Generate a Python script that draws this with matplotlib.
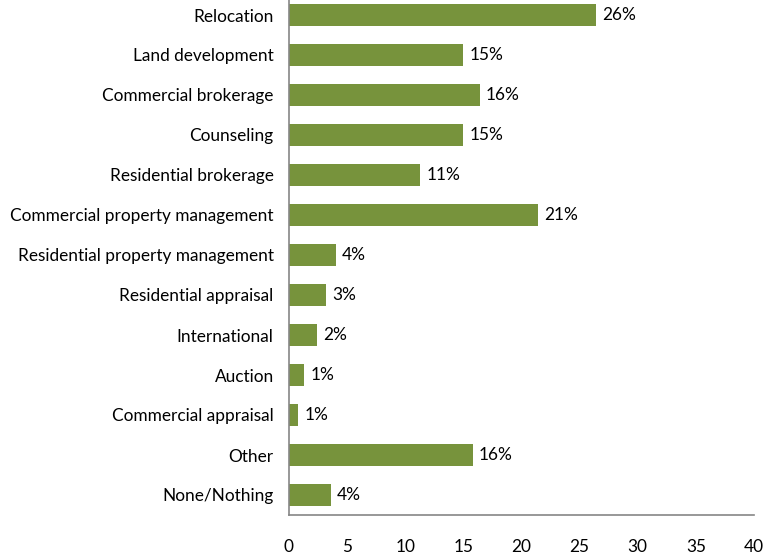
import matplotlib
matplotlib.use("Agg")
import matplotlib.pyplot as plt

# Share of respondents by specialty (percent)
categories = [
    "Relocation",
    "Land development",
    "Commercial brokerage",
    "Counseling",
    "Residential brokerage",
    "Commercial property management",
    "Residential property management",
    "Residential appraisal",
    "International",
    "Auction",
    "Commercial appraisal",
    "Other",
    "None/Nothing",
]
shares = [26.4, 15.0, 16.4, 15.0, 11.3, 21.4, 4.0, 3.2, 2.4, 1.3, 0.8, 15.8, 3.6]
x_ticks = [0, 5, 10, 15, 20, 25, 30, 35, 40]

BAR_COLOR = "#77933C"
AXIS_COLOR = "#868686"
FONT_SIZE = 12.4

plt.rcParams["font.family"] = ["Lato", "DejaVu Sans"]

W, H = 772, 557
fig = plt.figure(figsize=(W / 100, H / 100), dpi=100)
ax = fig.add_axes([289 / W, (H - 515) / H, (754 - 289) / W, 515 / H])

n = len(categories)
ypos = list(range(n - 1, -1, -1))
bars = ax.barh(ypos, shares, height=0.57, color=BAR_COLOR)

for rect, v in zip(bars, shares):
    ax.annotate(f"{round(v):d}%",
                xy=(rect.get_width(), rect.get_y() + rect.get_height() / 2),
                xytext=(6, 0), textcoords="offset pixels",
                va="center", ha="left", fontsize=FONT_SIZE, color="#000000")

ax.set_xlim(0, 40)
ax.set_ylim(-0.5, n - 0.5 + (515 - n * 40) / 40)
ax.set_xticks(x_ticks)
ax.set_yticks(ypos)
ax.set_yticklabels(categories)

for side in ("top", "right"):
    ax.spines[side].set_visible(False)
for side in ("left", "bottom"):
    ax.spines[side].set_color(AXIS_COLOR)
    ax.spines[side].set_linewidth(1.2)

ax.tick_params(axis="y", length=0, pad=11, labelsize=FONT_SIZE)
ax.tick_params(axis="x", length=0, pad=17, labelsize=FONT_SIZE)

fig.savefig("out.png", dpi=100)
